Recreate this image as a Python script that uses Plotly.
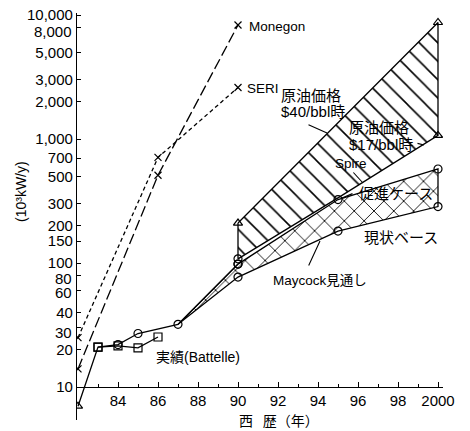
import plotly.graph_objects as go

# ---------------- data ----------------
monegon_years = [1982, 1986, 1990]
monegon = [14, 510, 8300]

seri_years = [1982, 1986, 1990]
seri = [25, 710, 2600]

actual_years = [1982, 1983, 1984, 1985, 1987]
actual = [7, 21, 22, 27, 32]
actual_symbols = ["triangle-up-open", "square-open", "circle-open", "circle-open", "circle-open"]

battelle_years = [1983, 1984, 1985, 1986]
battelle = [21, 21.5, 20.7, 25.3]

promote_years = [1987, 1990, 1995, 2000]
promote = [32, 98, 325, 573]

current_years = [1987, 1990, 1995, 2000]
current = [32, 77, 181, 285]

spire_hi_years = [1990, 2000]
spire_hi = [210, 8700]

spire_lo_years = [1990, 1995, 2000]
spire_lo = [108, 335, 1070]

x_tickvals = [1984, 1986, 1988, 1990, 1992, 1994, 1996, 1998, 2000]
x_ticktext = ["84", "86", "88", "90", "92", "94", "96", "98", "2000"]

y_tickvals = [10, 20, 30, 40, 60, 80, 100, 150, 200, 300, 500, 700,
              1000, 2000, 3000, 5000, 8000, 10000]
y_ticktext = ["10", "20", "30", "40", "60", "80", "100", "150", "200", "300",
              "500", "700", "1,000", "2,000", "3,000", "5,000", "8,000", "10,000"]
# labels printed slightly apart from their crowded ticks in the original
y_offset_labels = {"8,000": 31, "80": 278, "60": 293, "30": 332}

# ---------------- layout geometry ----------------
W, H = 470, 431
OFF = 8  # page body margin of the browser
L, R, T, B = 77, 443, 13, 420  # plot area in the (screen) picture
FONT = "Liberation Sans, Arial, Noto Sans CJK JP"
JFONT = "Liberation Sans, Noto Sans CJK JP"
LW = 1.3
MK = dict(color="black", width=1.2)


def px(x, y):
    return (x - L) / (R - L), (B - y) / (B - T)


fig = go.Figure()

# Spire hatched region (between $40 and $17 lines)
fig.add_trace(go.Scatter(
    x=spire_hi_years + spire_lo_years[::-1] + spire_hi_years[:1],
    y=spire_hi + spire_lo[::-1] + spire_hi[:1],
    mode="lines", fill="toself", fillcolor="white",
    fillpattern=dict(shape="\\", fgcolor="black", fgopacity=1, bgcolor="white",
                     size=13, solidity=0.12),
    line=dict(color="black", width=LW), hoverinfo="skip", showlegend=False))

# Maycock cross-hatched region (promotion case vs current base)
fig.add_trace(go.Scatter(
    x=promote_years + current_years[::-1],
    y=promote + current[::-1],
    mode="lines", fill="toself", fillcolor="white",
    fillpattern=dict(shape="x", fgcolor="black", fgopacity=1, bgcolor="white",
                     size=14, solidity=0.12),
    line=dict(color="black", width=LW), hoverinfo="skip", showlegend=False))

# Monegon
fig.add_trace(go.Scatter(
    x=monegon_years, y=monegon, mode="lines+markers",
    line=dict(color="black", width=LW, dash="11px,4px"),
    marker=dict(symbol="x-thin-open", size=7, color="black", line=MK),
    showlegend=False))

# SERI
fig.add_trace(go.Scatter(
    x=seri_years, y=seri, mode="lines+markers",
    line=dict(color="black", width=LW, dash="4px,3px"),
    marker=dict(symbol="x-thin-open", size=7, color="black", line=MK),
    showlegend=False))

# Actual (circles)
fig.add_trace(go.Scatter(
    x=actual_years + promote_years[1:2], y=actual + promote[1:2], mode="lines+markers",
    line=dict(color="black", width=LW),
    marker=dict(symbol=actual_symbols + ["circle-open"], size=8, color="black", line=MK),
    showlegend=False))

# Battelle (squares)
fig.add_trace(go.Scatter(
    x=battelle_years, y=battelle, mode="lines+markers",
    line=dict(color="black", width=LW),
    marker=dict(symbol="square-open", size=8, color="black", line=MK),
    showlegend=False))

# markers on the projection lines
fig.add_trace(go.Scatter(
    x=promote_years[1:] + current_years[1:] + spire_lo_years[:1],
    y=promote[1:] + current[1:] + spire_lo[:1],
    mode="markers",
    marker=dict(symbol="circle-open", size=8, color="black", line=MK),
    showlegend=False))
fig.add_trace(go.Scatter(
    x=spire_hi_years + spire_lo_years[-1:],
    y=spire_hi + spire_lo[-1:],
    mode="markers",
    marker=dict(symbol="triangle-up-open", size=8, color="black", line=MK),
    showlegend=False))

# ---------------- labels ----------------
ann = []


def label(text, x, y, size=15, anchor="left", family=JFONT):
    xp, yp = px(x, y)
    ann.append(dict(text=text, x=xp, y=yp, xref="paper", yref="paper",
                    xanchor=anchor, yanchor="middle", showarrow=False,
                    font=dict(family=family, size=size, color="black")))


def leader(x0, y0, x1, y1):
    xp, yp = px(x1, y1)
    ann.append(dict(text="", x=xp, y=yp, xref="paper", yref="paper",
                    ax=x0 - x1, ay=y0 - y1, axref="pixel", ayref="pixel",
                    showarrow=True, arrowhead=0, arrowwidth=1.1, arrowcolor="black"))


label("Monegon", 247, 27, size=13.5)
label("SERI", 245, 88, size=13.5)
label("原油価格", 279, 95)
label("$40/bbl時", 279, 112)
label("原油価格", 347, 127)
label("$17/bbl時", 347, 144)
label("Spire", 333, 163, size=13.5)
label("促進ケース", 357, 194)
label("現状ベース", 362, 237)
label("Maycock見通し", 271, 280, size=13.5)
label("実績(Battelle)", 154, 357, size=14)

for txt, ypos in y_offset_labels.items():
    label(txt, 74, ypos, size=15, anchor="right", family=FONT)
y_ticktext_shown = ["" if t in y_offset_labels else t for t in y_ticktext]

leader(307, 124, 327, 133)
leader(416, 143, 424, 145)
leader(352, 171, 363, 183)
leader(354, 193, 342, 198)
leader(308, 267, 320, 241)

# axis titles
xp, yp = px(21, 192)
ann.append(dict(text="(10³kW/y)", x=xp, y=yp, xref="paper", yref="paper",
                textangle=-90, showarrow=False, xanchor="center", yanchor="middle",
                font=dict(family=FONT, size=14, color="black")))
xp, yp = px(279, 421)
ann.append(dict(text="西\u2002\u2009歴（年）", x=xp, y=yp, xref="paper", yref="paper",
                showarrow=False, xanchor="center", yanchor="middle",
                font=dict(family=JFONT, size=14, color="black")))

fig.update_layout(
    width=W, height=H,
    margin=dict(l=L - OFF, r=W - (R - OFF), t=T - OFF, b=H - (B - OFF), autoexpand=False),
    paper_bgcolor="white", plot_bgcolor="white",
    font=dict(family=FONT, size=15, color="black"),
    annotations=ann,
    xaxis=dict(
        range=[1982 - 1 / 20, 1982 + (R - 78) / 20],
        anchor="free", position=(B - 387) / (B - T), automargin=False,
        showline=True, linecolor="black", linewidth=1.3,
        showgrid=False, zeroline=False,
        tickmode="array", tickvals=x_tickvals, ticktext=x_ticktext,
        ticks="inside", ticklen=5, tickwidth=1.2, tickcolor="black",
        minor=dict(ticks="inside", ticklen=3, tickwidth=1, tickcolor="black",
                   tick0=1983, dtick=2),
        tickfont=dict(family=FONT, size=15, color="black"),
    ),
    yaxis=dict(
        type="log", automargin=False, ticklabeloverflow="allow",
        range=[1 - (B - 387) / 124, 1 + (387 - T) / 124],
        showline=True, linecolor="black", linewidth=1.3,
        showgrid=False, zeroline=False,
        tickmode="array", tickvals=y_tickvals, ticktext=y_ticktext_shown,
        ticks="inside", ticklen=4, tickwidth=1.2, tickcolor="black",
        tickfont=dict(family=FONT, size=15, color="black"),
    ),
)

fig.write_html("out.html")
